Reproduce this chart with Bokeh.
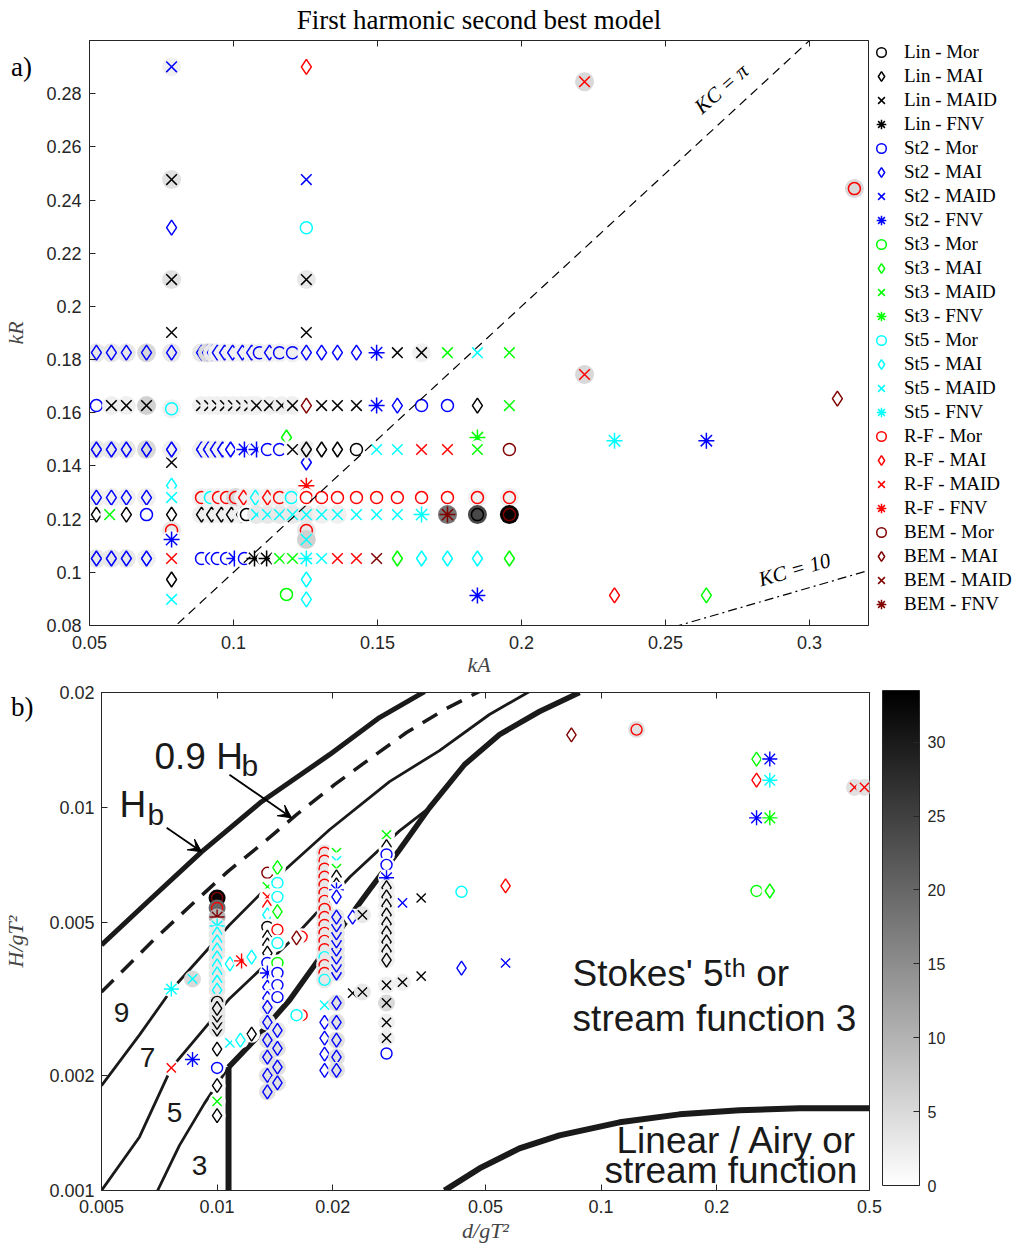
import numpy as np
from bokeh.plotting import figure
from bokeh.models import (ColumnDataSource, Legend, LegendItem, Label, Arrow, VeeHead, Div,
                          LinearAxis, LogAxis, FixedTicker, NumeralTickFormatter,
                          CustomJSTickFormatter, ColorBar, LinearColorMapper)
from bokeh.layouts import column, row
from bokeh.embed import file_html
from bokeh.resources import INLINE

# ---------------------------------------------------------------- data
MODEL_NAMES = ["Lin", "St2", "St3", "St5", "R-F", "BEM"]
MODEL_KEYS = ["L", "2", "3", "5", "R", "B"]
METHOD_NAMES = ["Mor", "MAI", "MAID", "FNV"]
METHOD_KEYS = ["o", "d", "x", "*"]
SHADE_MAX = 33.5
COLORBAR_TICKS = [0, 5, 10, 15, 20, 25, 30]
KC_VALUES = [np.pi, 10.0]

A_XTICKS = [0.05, 0.1, 0.15, 0.2, 0.25, 0.3]
A_YTICKS = [0.08, 0.10, 0.12, 0.14, 0.16, 0.18, 0.20, 0.22, 0.24, 0.26, 0.28]
B_XTICKS = [0.005, 0.01, 0.02, 0.05, 0.1, 0.2, 0.5]
B_YTICKS = [0.001, 0.002, 0.005, 0.01, 0.02]

# panel a : (kA, kR, model+method, shade)
A_TOP = [
    (0.0785, 0.2901, "2x", 2), (0.0785, 0.2477, "Lx", 4), (0.0785, 0.2296, "2d", 0),
    (0.0785, 0.2101, "Lx", 4), (0.0785, 0.1902, "Lx", 0),
    (0.1253, 0.2901, "Rd", 0), (0.1253, 0.2477, "2x", 0), (0.1253, 0.2296, "5o", 0),
    (0.1253, 0.2101, "Lx", 3), (0.1253, 0.1902, "Lx", 0),
    (0.2219, 0.2845, "Rx", 5), (0.3156, 0.2443, "Ro", 5), (0.2219, 0.1744, "Rx", 5),
    (0.3097, 0.1653, "Bd", 0), (0.2323, 0.1495, "5*", 0), (0.2642, 0.1495, "2*", 0),
    (0.2323, 0.0913, "Rd", 0), (0.2642, 0.0913, "3d", 0),
]
# rows at constant kR : (kA, model+method, shade)
A_KR_LEVELS = [0.1826, 0.1627, 0.1462, 0.1281, 0.1217, 0.1052]
A_ROW_1 = [(0.0524, "2d", 3), (0.0576, "2d", 3), (0.0628, "2d", 3), (0.0698, "2d", 5), (0.0785, "2d", 3),
           (0.0889, "2d", 3), (0.0910, "2d", 5), (0.0927, "2d", 3), (0.0944, "2d", 2), (0.0969, "2d", 2),
           (0.0997, "2d", 2), (0.1031, "2d", 2), (0.1063, "2d", 2), (0.1090, "2o", 2), (0.1125, "2d", 2),
           (0.1160, "2o", 2), (0.1205, "2o", 2), (0.1253, "2d", 1), (0.1306, "2d", 0), (0.1361, "2d", 0),
           (0.1427, "2d", 0), (0.1497, "2*", 0), (0.1569, "Lx", 0), (0.1653, "Lx", 2), (0.1743, "3x", 0),
           (0.1847, "5x", 0), (0.1958, "3x", 0)]
A_ROW_2 = [(0.0524, "2o", 0), (0.0576, "Lx", 2), (0.0628, "Lx", 2), (0.0698, "Lx", 6),
           (0.0889, "Lx", 2), (0.0917, "Lx", 2), (0.0944, "Lx", 2), (0.0972, "Lx", 2), (0.1000, "Lx", 2),
           (0.1028, "Lx", 2), (0.1056, "Lx", 2), (0.1080, "Lx", 2), (0.1125, "Lx", 2), (0.1167, "Lx", 2),
           (0.1205, "Lx", 2), (0.1253, "Bd", 0), (0.1306, "Lx", 0), (0.1361, "Lx", 0), (0.1427, "Lx", 0),
           (0.1497, "2*", 0), (0.1569, "2d", 0), (0.1653, "2o", 0), (0.1743, "2o", 0), (0.1847, "Ld", 0),
           (0.1958, "3x", 0)]
A_ROW_3 = [(0.0524, "2d", 3), (0.0576, "2d", 3), (0.0628, "2d", 3), (0.0698, "2d", 5), (0.0785, "2d", 2),
           (0.0889, "2d", 2), (0.0913, "2d", 2), (0.0937, "2d", 2), (0.0962, "2d", 2), (0.0990, "2d", 0),
           (0.1038, "2*", 0), (0.1080, "2*", 0), (0.1118, "2o", 0), (0.1160, "2o", 0), (0.1205, "Lx", 0),
           (0.1253, "Ld", 2), (0.1306, "Ld", 0), (0.1361, "Ld", 0), (0.1427, "Lo", 0), (0.1497, "5x", 0),
           (0.1569, "5x", 0), (0.1653, "Rx", 0), (0.1743, "Rx", 0), (0.1847, "3x", 0), (0.1958, "Bo", 0)]
A_ROW_4 = [(0.0524, "2d", 2), (0.0576, "2d", 2), (0.0628, "2d", 2), (0.0698, "2d", 2), (0.0785, "5x", 0),
           (0.0889, "Ro", 2), (0.0920, "5o", 2), (0.0948, "Ro", 2), (0.0976, "Ro", 2), (0.1007, "Ro", 5),
           (0.1035, "Rd", 2), (0.1076, "5d", 2), (0.1118, "Rd", 2), (0.1160, "Ro", 2), (0.1201, "5o", 2),
           (0.1253, "Ro", 0), (0.1306, "Ro", 0), (0.1361, "Ro", 0), (0.1427, "Ro", 0), (0.1497, "Ro", 0),
           (0.1569, "Ro", 0), (0.1653, "Ro", 0), (0.1743, "Ro", 0), (0.1847, "Ro", 2), (0.1958, "Ro", 2)]
A_ROW_5 = [(0.0524, "Ld", 0), (0.0570, "3x", 0), (0.0628, "Ld", 0), (0.0698, "2o", 0), (0.0785, "Ld", 0),
           (0.0889, "Ld", 2), (0.0924, "Ld", 2), (0.0958, "Ld", 2), (0.0993, "Ld", 2), (0.1028, "Ld", 2),
           (0.1045, "Lo", 0), (0.1080, "5x", 3), (0.1118, "5x", 3), (0.1160, "5x", 3), (0.1205, "5x", 3),
           (0.1253, "5x", 3), (0.1306, "5x", 2), (0.1361, "5x", 2), (0.1427, "5x", 0), (0.1497, "5x", 0),
           (0.1569, "5x", 0), (0.1653, "5*", 0), (0.1743, "B*", 18), (0.1847, "Lo", 24), (0.1958, "Bo", 33)]
A_ROW_6 = [(0.0524, "2d", 3), (0.0576, "2d", 3), (0.0628, "2d", 3), (0.0698, "2d", 2), (0.0785, "Rx", 0),
           (0.0889, "2o", 0), (0.0924, "2o", 0), (0.0944, "2o", 0), (0.0976, "2o", 0), (0.1003, "2*", 0),
           (0.1038, "2o", 0), (0.1073, "L*", 0), (0.1115, "L*", 0), (0.1160, "3x", 0), (0.1205, "3x", 0),
           (0.1253, "5*", 0), (0.1306, "5x", 0), (0.1361, "Rx", 0), (0.1427, "Rx", 0), (0.1497, "Bx", 0),
           (0.1569, "3d", 0), (0.1653, "5d", 0), (0.1743, "5d", 0), (0.1847, "5d", 0), (0.1958, "3d", 0)]
A_MID_1 = [(0.0785, 0.1615, "5o", 2), (0.1184, 0.1507, "3d", 0), (0.1847, 0.1507, "3*", 0),
           (0.1253, 0.1413, "2d", 0), (0.0785, 0.1413, "Lx", 0)]
A_MID_2 = [(0.0785, 0.1326, "5d", 0), (0.1253, 0.1326, "R*", 0)]
A_MID_3 = [(0.0785, 0.1157, "Ro", 3), (0.0785, 0.1123, "2*", 0), (0.1253, 0.1157, "Ro", 3),
           (0.1253, 0.1123, "5x", 6)]
A_LOW = [(0.0785, 0.0973, "Ld", 0), (0.0785, 0.0898, "5x", 0), (0.1253, 0.0973, "5d", 0),
         (0.1253, 0.0898, "5d", 0), (0.1184, 0.0917, "3o", 0), (0.1847, 0.0913, "2*", 0)]

# panel b : (d/gT^2, H/gT^2, model+method, shade)
B_COL_A = ([(0.0100, 5.81e-3, "Bo", 33), (0.0100, 5.47e-3, "Ro", 20), (0.0100, 5.18e-3, "B*", 10),
            (0.0100, 4.91e-3, "5*", 3)]
           + [(0.0100, h, "5d", 3) for h in [4.68e-3, 4.46e-3, 4.25e-3, 4.05e-3, 3.86e-3, 3.68e-3, 3.50e-3, 3.34e-3]]
           + [(0.0100, 3.11e-3, "Lo", 3)]
           + [(0.0100, h, "Ld", 3) for h in [2.64e-3, 2.75e-3, 2.87e-3, 2.99e-3]]
           + [(0.0100, 2.34e-3, "Ld", 0), (0.0100, 2.09e-3, "2o", 0), (0.0100, 1.88e-3, "Ld", 0),
              (0.0100, 1.71e-3, "3x", 0), (0.0100, 1.57e-3, "Ld", 0)])
B_LEFT = [(0.0076, 3.36e-3, "5*", 0), (0.00863, 3.57e-3, "5x", 5), (0.0076, 2.09e-3, "Rx", 0),
          (0.00863, 2.20e-3, "2*", 0)]
B_NEAR = [(0.0108, 3.91e-3, "5d", 0), (0.01158, 3.98e-3, "R*", 0), (0.0123, 4.07e-3, "5d", 0),
          (0.0123, 2.56e-3, "Ld", 0), (0.0108, 2.43e-3, "5x", 0), (0.0115, 2.47e-3, "5d", 0)]
B_COL_B = [(0.01352, 6.76e-3, "Bo", 0), (0.01352, 6.21e-3, "3x", 0), (0.01352, 5.85e-3, "Rx", 0),
           (0.01352, 5.51e-3, "Rd", 0), (0.01352, 5.25e-3, "5d", 0), (0.01352, 4.88e-3, "Lo", 0),
           (0.01352, 4.59e-3, "Ld", 0), (0.01352, 4.38e-3, "Ld", 0), (0.01352, 4.17e-3, "Ld", 0),
           (0.01352, 3.93e-3, "2o", 0), (0.01352, 3.70e-3, "2*", 0), (0.01352, 3.40e-3, "2d", 0),
           (0.01352, 3.18e-3, "2d", 0), (0.01352, 3.01e-3, "2d", 2), (0.01352, 2.75e-3, "2d", 3),
           (0.01352, 2.47e-3, "2d", 4), (0.01352, 2.23e-3, "2d", 4), (0.01352, 2.00e-3, "2d", 4),
           (0.01352, 1.81e-3, "2d", 4)]
B_COL_C = [(0.01436, 6.97e-3, "3d", 0), (0.01436, 6.36e-3, "5o", 0), (0.01436, 5.85e-3, "5o", 0),
           (0.01436, 5.35e-3, "3d", 0), (0.01436, 4.80e-3, "Ro", 0), (0.01436, 4.43e-3, "5o", 0),
           (0.01436, 3.93e-3, "3o", 0), (0.01436, 3.70e-3, "2o", 0), (0.01436, 3.44e-3, "2o", 0),
           (0.01436, 3.20e-3, "2o", 0), (0.01436, 2.62e-3, "2d", 3), (0.01436, 2.35e-3, "2d", 4),
           (0.01436, 2.10e-3, "2d", 4), (0.01436, 1.91e-3, "2d", 4)]
B_MID = [(0.0166, 4.60e-3, "Ro", 0), (0.0161, 4.57e-3, "Bd", 0), (0.0166, 2.87e-3, "Ro", 0),
         (0.0161, 2.87e-3, "5o", 0)]
B_COL_D = ([(0.01905, h, "Ro", 3) for h in [7.63e-3, 7.27e-3, 6.93e-3, 6.60e-3, 6.29e-3, 5.99e-3, 5.71e-3,
                                             5.44e-3, 5.18e-3, 4.94e-3, 4.71e-3, 4.49e-3, 4.27e-3]]
           + [(0.01905, 4.07e-3, "5o", 3), (0.01905, 3.88e-3, "Ro", 3), (0.01905, 3.70e-3, "Ro", 3),
              (0.01905, 3.55e-3, "5o", 3), (0.01905, 3.05e-3, "5x", 0)]
           + [(0.01905, h, "2d", 0) for h in [2.75e-3, 2.50e-3, 2.27e-3, 2.06e-3]])
B_COL_E = ([(0.02046, 7.63e-3, "3x", 0), (0.02046, 7.27e-3, "5x", 0), (0.02046, 6.93e-3, "3x", 0),
            (0.02046, 6.60e-3, "Ld", 0), (0.02046, 6.29e-3, "Ld", 0), (0.02046, 6.10e-3, "2*", 0),
            (0.02046, 5.85e-3, "2d", 0)]
           + [(0.02046, h, "2d", 3) for h in [3.70e-3, 3.88e-3, 4.07e-3, 4.27e-3, 4.49e-3, 4.71e-3, 4.94e-3, 5.18e-3]]
           + [(0.02046, h, "2d", 4) for h in [3.09e-3, 2.75e-3, 2.47e-3, 2.23e-3, 2.06e-3]])
B_RIGHT_1 = [(0.02254, 5.18e-3, "2d", 0), (0.0239, 5.25e-3, "Lx", 3), (0.02254, 3.28e-3, "Lx", 0),
             (0.0239, 3.30e-3, "Lx", 3)]
B_COL_F = ([(0.02762, 8.50e-3, "3x", 0), (0.02762, 7.91e-3, "Ld", 0), (0.02762, 7.55e-3, "2o", 0),
            (0.02762, 7.09e-3, "2o", 0), (0.02762, 6.56e-3, "2*", 0)]
           + [(0.02762, h, "Ld", 2) for h in [6.18e-3, 5.85e-3, 5.54e-3, 5.25e-3, 4.97e-3, 4.71e-3, 4.46e-3, 4.22e-3, 4.00e-3]]
           + [(0.02762, 3.44e-3, "Lx", 2), (0.02762, 3.09e-3, "Lx", 5), (0.02762, 2.75e-3, "Lx", 2),
              (0.02762, 2.50e-3, "Lx", 2), (0.02762, 2.28e-3, "2o", 0)])
B_RIGHT_2 = [(0.0304, 3.50e-3, "Lx", 2), (0.0340, 3.63e-3, "Lx", 0), (0.0304, 5.64e-3, "2x", 0),
             (0.0340, 5.81e-3, "Lx", 0), (0.0433, 6.03e-3, "5o", 0), (0.0564, 6.25e-3, "Rd", 0),
             (0.0433, 3.81e-3, "2d", 0), (0.0564, 3.93e-3, "2x", 0), (0.0837, 15.5e-3, "Bd", 0),
             (0.1237, 16.0e-3, "Ro", 4), (0.254, 13.4e-3, "3d", 0), (0.275, 13.4e-3, "2*", 0),
             (0.254, 11.8e-3, "Rd", 0), (0.275, 11.8e-3, "5*", 0), (0.254, 9.41e-3, "2*", 0),
             (0.275, 9.41e-3, "3*", 0), (0.254, 6.06e-3, "3o", 0), (0.275, 6.06e-3, "3d", 0),
             (0.457, 11.3e-3, "Rx", 4), (0.485, 11.3e-3, "Rx", 4)]

# wave theory diagram curves (d/gT^2, H/gT^2)
HB_D = [0.005, 0.00667, 0.00911, 0.01305, 0.01962, 0.02648, 0.0347]
HB_H = [0.00438, 0.00574, 0.00767, 0.01037, 0.01376, 0.0172, 0.0201]
HB09_D = [0.005, 0.00675, 0.00873, 0.01064, 0.01329, 0.0161, 0.02022, 0.02524, 0.03114, 0.0391, 0.04823]
HB09_H = [3.30e-3, 4.46e-3, 5.67e-3, 6.80e-3, 8.15e-3, 9.59e-3, 11.49e-3, 13.52e-3, 15.72e-3, 18.05e-3, 20.12e-3]
N9_D = [0.005, 0.00628, 0.0076, 0.01077, 0.01454, 0.01962, 0.02812, 0.03795, 0.0512, 0.0651]
N9_H = [1.88e-3, 2.55e-3, 3.34e-3, 4.94e-3, 6.68e-3, 8.76e-3, 11.70e-3, 14.1e-3, 17.52e-3, 20.12e-3]
N7_D = [0.005, 0.00628, 0.0076, 0.01077, 0.01544, 0.0222, 0.02985, 0.03574]
N7_H = [1.0e-3, 1.38e-3, 2.09e-3, 3.17e-3, 4.46e-3, 6.60e-3, 8.70e-3, 10.0e-3]
N5_D = [0.0070, 0.00798, 0.00927, 0.01071]
N5_H = [1.0e-3, 1.312e-3, 1.689e-3, 2.099e-3]
ST5_D = [0.01071, 0.01251, 0.01544, 0.01999, 0.02493, 0.02985, 0.03574, 0.04409, 0.05437, 0.06912, 0.08787]
ST5_H = [2.099e-3, 2.470e-3, 3.144e-3, 4.513e-3, 6.100e-3, 7.764e-3, 10.0e-3, 12.96e-3, 15.53e-3, 17.84e-3, 20.0e-3]
SHALLOW_D = [0.01071, 0.01071]
SHALLOW_H = [1.0e-3, 2.099e-3]
LIN_D = [0.0391, 0.04822, 0.0613, 0.0779, 0.1117, 0.160, 0.2293, 0.3286, 0.5]
LIN_H = [1.0e-3, 1.142e-3, 1.288e-3, 1.393e-3, 1.507e-3, 1.581e-3, 1.620e-3, 1.639e-3, 1.639e-3]

# ---------------------------------------------------------------- styles
COLORS = {"L": "#000000", "2": "#0000ff", "3": "#00ff00", "5": "#00ffff", "R": "#ff0000", "B": "#800000"}
MARKERS = {"o": "circle", "d": "diamond", "x": "x", "*": "asterisk"}
SIZE_A = {"o": 12, "d": 15, "x": 15, "*": 16}
SIZE_B = {"o": 11, "d": 14, "x": 13, "*": 15}
INK = "#262626"
SANS = "Liberation Sans"
SERIF = "Liberation Serif"


def gray_hex(v):
    g = int(round(255 * (1 - min(max(v, 0), SHADE_MAX) / SHADE_MAX)))
    return "#%02x%02x%02x" % (g, g, g)


GRAY_PALETTE = [gray_hex(v) for v in np.linspace(0, SHADE_MAX, 256)]


def build_source(groups, sizes, bg_size, lw):
    cols = {k: [] for k in ["x", "y", "marker", "size", "fill_color", "fill_alpha",
                            "line_color", "line_alpha", "line_width"]}
    first_row = {}
    for pts in groups:
        for (x, y, code, shade) in pts:
            m, t = code[0], code[1]
            for j, rw in enumerate((("circle", bg_size, gray_hex(shade), 1.0, gray_hex(shade), 0.0, 0.0),
                                    (MARKERS[t], sizes[t], "#ffffff", 0.0, COLORS[m], 1.0, lw))):
                if j == 1 and code not in first_row:
                    first_row[code] = len(cols["x"])
                cols["x"].append(x)
                cols["y"].append(y)
                for k, v in zip(["marker", "size", "fill_color", "fill_alpha",
                                 "line_color", "line_alpha", "line_width"], rw):
                    cols[k].append(v)
    return ColumnDataSource(cols), first_row


def style_axis(ax, size="18px"):
    ax.axis_line_color = INK
    ax.major_tick_line_color = INK
    ax.major_tick_in = 6
    ax.major_tick_out = 0
    ax.minor_tick_line_color = None
    ax.major_label_text_font = SANS
    ax.major_label_text_font_size = size
    ax.major_label_text_color = INK


def blank_axis(cls, ticks):
    ax = cls(ticker=FixedTicker(ticks=ticks), formatter=CustomJSTickFormatter(code="return ''"))
    style_axis(ax, "1px")
    ax.major_label_standoff = 0
    return ax


# ---------------------------------------------------------------- panel a
pa = figure(frame_width=779, frame_height=585, x_range=(0.05, 0.3205), y_range=(0.08, 0.30),
            output_backend="svg", toolbar_location=None, title=None,
            min_border_left=82, min_border_right=145, min_border_top=40, min_border_bottom=59)
pa.grid.visible = False
pa.outline_line_color = INK

for ax in pa.xaxis:
    style_axis(ax)
    ax.ticker = FixedTicker(ticks=A_XTICKS)
    ax.formatter = NumeralTickFormatter(format="0.[000]")
    ax.major_label_standoff = 10
    ax.axis_label = "kA"
    ax.axis_label_text_font = SERIF
    ax.axis_label_text_font_style = "italic"
    ax.axis_label_text_font_size = "22px"
    ax.axis_label_standoff = 0
for ax in pa.yaxis:
    style_axis(ax)
    ax.ticker = FixedTicker(ticks=A_YTICKS)
    ax.formatter = NumeralTickFormatter(format="0.[000]")
    ax.major_label_standoff = 8
    ax.axis_label = "kR"
    ax.axis_label_text_font = SERIF
    ax.axis_label_text_font_style = "italic"
    ax.axis_label_text_font_size = "22px"
    ax.axis_label_standoff = 15
top_a = blank_axis(LinearAxis, A_XTICKS)
top_a.axis_label = "First harmonic second best model"
top_a.axis_label_text_font = SERIF
top_a.axis_label_text_font_style = "normal"
top_a.axis_label_text_font_size = "27px"
top_a.axis_label_text_color = "black"
top_a.axis_label_standoff = 6
pa.add_layout(top_a, "above")

rows_a = [[(ka, lvl, c, s) for (ka, c, s) in rw]
          for rw, lvl in zip([A_ROW_1, A_ROW_2, A_ROW_3, A_ROW_4, A_ROW_5, A_ROW_6], A_KR_LEVELS)]
groups_a = [A_TOP, rows_a[0], rows_a[1], A_MID_1, rows_a[2], A_MID_2, rows_a[3], rows_a[4],
            A_MID_3, rows_a[5], A_LOW]
src_a, first_a = build_source(groups_a, SIZE_A, 19, 1.5)
ra = pa.scatter(x="x", y="y", marker="marker", size="size", fill_color="fill_color",
                fill_alpha="fill_alpha", line_color="line_color", line_alpha="line_alpha",
                line_width="line_width", source=src_a)

ka_line = np.array([0.05, 0.3205])
pa.line(ka_line, ka_line * np.pi / KC_VALUES[0], line_color="black", line_width=1.2, line_dash="9 6")
pa.line(ka_line, ka_line * np.pi / KC_VALUES[1], line_color="black", line_width=1.2, line_dash="9 4 2 4")

pa.add_layout(Label(x=0.2694, y=0.2819, text="KC = π", angle=np.deg2rad(41), text_align="center",
                    text_baseline="middle", text_font=SERIF, text_font_style="italic",
                    text_font_size="21px", text_color="black"))
pa.add_layout(Label(x=0.2948, y=0.1010, text="KC = 10", angle=np.deg2rad(16), text_align="center",
                    text_baseline="middle", text_font=SERIF, text_font_style="italic",
                    text_font_size="21px", text_color="black"))

items = []
for mk, mname in zip(MODEL_KEYS, MODEL_NAMES):
    for tk, tname in zip(METHOD_KEYS, METHOD_NAMES):
        items.append(LegendItem(label=f"{mname} - {tname}", renderers=[ra], index=first_a[mk + tk]))
legend = Legend(items=items, location="top_left", margin=0, padding=0, spacing=0,
                glyph_width=26, glyph_height=24, label_height=24, label_standoff=10,
                label_text_font=SERIF, label_text_font_size="19px", label_text_color="black",
                border_line_alpha=0, background_fill_alpha=0)
pa.add_layout(legend, "right")

# ---------------------------------------------------------------- panel b
pb = figure(frame_width=768, frame_height=498, x_axis_type="log", y_axis_type="log",
            x_range=(0.005, 0.5), y_range=(0.001, 0.02),
            output_backend="svg", toolbar_location=None, title=None,
            min_border_left=94, min_border_right=144, min_border_top=8, min_border_bottom=52)
pb.grid.visible = False
pb.outline_line_color = INK

for ax in pb.xaxis:
    style_axis(ax)
    ax.ticker = FixedTicker(ticks=B_XTICKS)
    ax.formatter = NumeralTickFormatter(format="0.[000]")
    ax.major_label_standoff = 9
    ax.axis_label = "d/gT²"
    ax.axis_label_text_font = SERIF
    ax.axis_label_text_font_style = "italic"
    ax.axis_label_text_font_size = "22px"
    ax.axis_label_standoff = 2
for ax in pb.yaxis:
    style_axis(ax)
    ax.ticker = FixedTicker(ticks=B_YTICKS)
    ax.formatter = NumeralTickFormatter(format="0.[000]")
    ax.major_label_standoff = 7
    ax.axis_label = "H/gT²"
    ax.axis_label_text_font = SERIF
    ax.axis_label_text_font_style = "italic"
    ax.axis_label_text_font_size = "22px"
    ax.axis_label_standoff = 18
pb.add_layout(blank_axis(LogAxis, B_XTICKS), "above")

curve = "#1a1a1a"
pb.line(HB_D, HB_H, line_color=curve, line_width=5)
pb.line(HB09_D, HB09_H, line_color=curve, line_width=3.5, line_dash="17 11")
pb.line(N9_D, N9_H, line_color=curve, line_width=2.8)
pb.line(N7_D, N7_H, line_color=curve, line_width=2.8)
pb.line(N5_D, N5_H, line_color=curve, line_width=2.8)
pb.line(ST5_D, ST5_H, line_color=curve, line_width=5.5)
pb.line(SHALLOW_D, SHALLOW_H, line_color=curve, line_width=6)
pb.line(LIN_D, LIN_H, line_color=curve, line_width=6)

groups_b = [B_COL_A, B_LEFT, B_NEAR, B_COL_B, B_COL_C, B_MID, B_COL_D, B_COL_E, B_RIGHT_1,
            B_COL_F, B_RIGHT_2]
src_b, _ = build_source(groups_b, SIZE_B, 17, 1.4)
pb.scatter(x="x", y="y", marker="marker", size="size", fill_color="fill_color",
           fill_alpha="fill_alpha", line_color="line_color", line_alpha="line_alpha",
           line_width="line_width", source=src_b)


def txt(x, y, s, size, align="left", baseline="alphabetic", font=SANS):
    pb.add_layout(Label(x=x, y=y, text=s, text_align=align, text_baseline=baseline,
                        text_font=font, text_font_size=size, text_color="#1a1a1a"))


txt(0.00687, 13.6e-3, "0.9 H", "37px")
txt(0.01158, 12.9e-3, "b", "30px")
txt(0.00557, 10.2e-3, "H", "37px")
txt(0.00659, 9.6e-3, "b", "30px")
txt(0.00564, 2.92e-3, "9", "28px", "center", "middle")
txt(0.00659, 2.23e-3, "7", "28px", "center", "middle")
txt(0.00775, 1.60e-3, "5", "28px", "center", "middle")
txt(0.0090, 1.163e-3, "3", "28px", "center", "middle")
txt(0.0843, 3.70e-3, "Stokes' 5ᵗʰ or", "37px")
txt(0.0843, 2.82e-3, "stream function 3", "37px")
txt(0.1097, 1.35e-3, "Linear / Airy or", "37px")
txt(0.1020, 1.13e-3, "stream function", "37px")

pb.add_layout(Arrow(end=VeeHead(size=13, fill_color="black", line_color="black"),
                    x_start=0.00739, y_start=8.86e-3, x_end=0.00911, y_end=7.67e-3,
                    line_width=1.8, line_color="black"))
pb.add_layout(Arrow(end=VeeHead(size=13, fill_color="black", line_color="black"),
                    x_start=0.01077, y_start=12.2e-3, x_end=0.01563, y_end=9.41e-3,
                    line_width=1.8, line_color="black"))

mapper = LinearColorMapper(palette=GRAY_PALETTE, low=0, high=SHADE_MAX)
cbar = ColorBar(color_mapper=mapper, ticker=FixedTicker(ticks=COLORBAR_TICKS), width=37, height=495,
                location=(13, 5), padding=0, margin=0, label_standoff=8,
                major_label_text_font=SANS, major_label_text_font_size="16px",
                major_label_text_color=INK, major_tick_line_color=INK, major_tick_in=6,
                major_tick_out=0, bar_line_color=INK, background_fill_alpha=0, border_line_alpha=0)
pb.add_layout(cbar, "right")

panel_tag = {"position": "absolute", "left": "6px", "font-family": "Liberation Serif",
             "font-size": "27px", "color": "black", "z-index": "10", "line-height": "1.2"}
tag_a = Div(text="a)", styles=dict(panel_tag, top="46px"))
tag_b = Div(text="b)", styles=dict(panel_tag, top="686px"))

layout = column(tag_a, row(pa), tag_b, row(pb), spacing=0)
open("out.html", "w").write(file_html(layout, INLINE))
